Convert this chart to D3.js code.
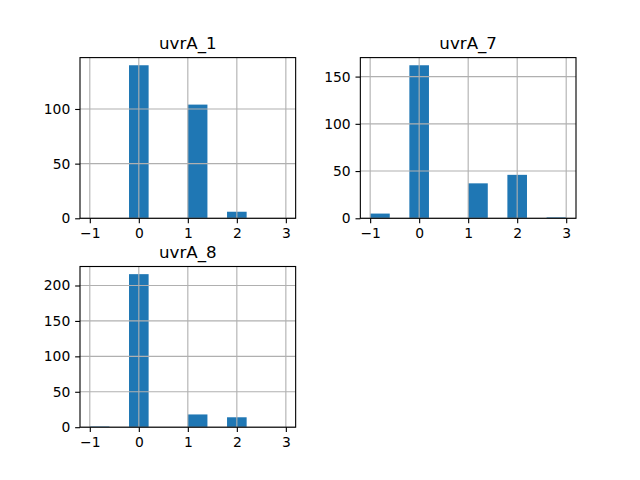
<!DOCTYPE html>
<html><head><meta charset="utf-8">
<script src="https://cdn.jsdelivr.net/npm/d3@7/dist/d3.min.js"></script>
<style>body{margin:0;background:#fff}svg{display:block}text{font-family:"DejaVu Sans",sans-serif;fill:#000}</style>
</head><body><svg id="c" width="640" height="480"></svg>
<script>
const titles = ["uvrA_1", "uvrA_7", "uvrA_8"];
const binEdges = [-1, -0.6, -0.2, 0.2, 0.6, 1.0, 1.4, 1.8, 2.2, 2.6, 3.0];
const countsA1 = [0, 0, 140, 0, 0, 104, 0, 6, 0, 0];
const countsA7 = [5, 0, 162, 0, 0, 37, 0, 46, 0, 1];
const countsA8 = [1, 0, 216, 0, 0, 18, 0, 14, 0, 0];
const xTicks = [-1, 0, 1, 2, 3];
const yTicksA1 = [0, 50, 100];
const yTicksA7 = [0, 50, 100, 150];
const yTicksA8 = [0, 50, 100, 150, 200];

const series = [countsA1, countsA7, countsA8];
const yTicks = [yTicksA1, yTicksA7, yTicksA8];

const W = 640, H = 480;
const L = 0.125*W, R = 0.9*W, T = 0.12*H, B = 0.89*H;
const ws = 0.3, hs = 0.3;
const aw = (R - L) / (2 + ws), ah = (B - T) / (2 + hs);
const px = 100/72;
const svg = d3.select("#c");
const fmt = v => String(v).replace("-", "\u2212");

series.forEach((counts, i) => {
  const col = i % 2, row = Math.floor(i / 2);
  const x0 = L + col * aw * (1 + ws), y0 = T + row * ah * (1 + hs);
  const g = svg.append("g").attr("transform", `translate(${x0},${y0})`);
  const lo = binEdges[0], hi = binEdges[binEdges.length - 1], pad = (hi - lo) * 0.05;
  const x = d3.scaleLinear().domain([lo - pad, hi + pad]).range([0, aw]);
  const ymax = d3.max(counts) * 1.05;
  const y = d3.scaleLinear().domain([0, ymax]).range([ah, 0]);
  // bars
  g.selectAll("rect.bar").data(counts).enter().append("rect")
    .attr("x", (d, j) => x(binEdges[j]))
    .attr("width", (d, j) => x(binEdges[j + 1]) - x(binEdges[j]))
    .attr("y", d => y(d)).attr("height", d => y(0) - y(d))
    .attr("fill", "#1f77b4");
  // grid
  g.selectAll("line.gx").data(xTicks).enter().append("line")
    .attr("x1", d => x(d)).attr("x2", d => x(d)).attr("y1", 0).attr("y2", ah)
    .attr("stroke", "#b0b0b0").attr("stroke-width", 0.8*px);
  g.selectAll("line.gy").data(yTicks[i]).enter().append("line")
    .attr("y1", d => y(d)).attr("y2", d => y(d)).attr("x1", 0).attr("x2", aw)
    .attr("stroke", "#b0b0b0").attr("stroke-width", 0.8*px);
  // axes
  const xa = d3.axisBottom(x).tickValues(xTicks).tickFormat(fmt).tickSize(3.5*px).tickPadding(3.5*px);
  const ya = d3.axisLeft(y).tickValues(yTicks[i]).tickFormat(fmt).tickSize(3.5*px).tickPadding(3.5*px);
  const gx = g.append("g").attr("transform", `translate(0,${ah})`).call(xa);
  const gy = g.append("g").call(ya);
  [gx, gy].forEach(a => {
    a.select(".domain").remove();
    a.selectAll("line").attr("stroke", "#000").attr("stroke-width", 0.8*px);
    a.selectAll("text").attr("font-size", 10*px).attr("font-family", "DejaVu Sans").attr("fill", "#000");
  });
  // spines
  g.append("rect").attr("width", aw).attr("height", ah).attr("fill", "none")
    .attr("stroke", "#000").attr("stroke-width", 0.8*px);
  // title
  g.append("text").attr("x", aw/2).attr("y", -6*px).attr("text-anchor", "middle")
    .attr("font-size", 12*px).text(titles[i]);
});
</script></body></html>
